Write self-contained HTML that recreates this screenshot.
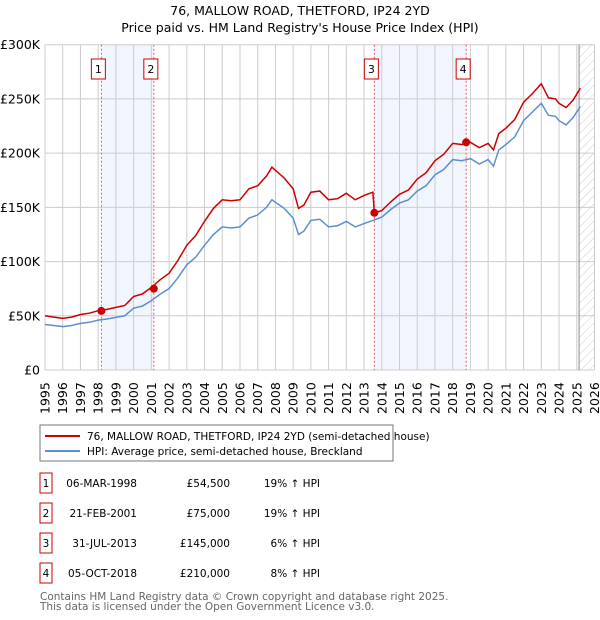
<!DOCTYPE html>
<html><head><meta charset="utf-8">
<style>
body{margin:0;background:#fff;font-family:"Liberation Sans","DejaVu Sans",sans-serif;}
#wrap{position:relative;width:600px;height:620px;overflow:hidden;}
svg text{font-family:"DejaVu Sans","Liberation Sans",sans-serif;}
</style></head>
<body><div id="wrap">
<svg id="chart" width="600" height="620"></svg>
</div>
<script>
const hpiYears=[1995,1995.5,1996,1996.5,1997,1997.5,1998,1998.5,1999,1999.5,2000,2000.5,2001,2001.5,2002,2002.5,2003,2003.5,2004,2004.5,2005,2005.5,2006,2006.5,2007,2007.5,2007.8,2008.5,2009,2009.3,2009.6,2010,2010.5,2011,2011.5,2012,2012.5,2013,2013.5,2014,2014.5,2015,2015.5,2016,2016.5,2017,2017.5,2018,2018.5,2019,2019.5,2020,2020.3,2020.6,2021,2021.5,2022,2022.5,2023,2023.4,2023.8,2024,2024.4,2024.8,2025.2];
const hpiValues=[42,41,40,41,43,44,46,47,48.5,50,57,59,64,70,75,85,97,104,115,125,132,131,132,140,143,150,157,149,140,125,128,138,139,132,133,137,132,135,138,141,148,154,157,165,170,180,185,194,193,195,190,194,188,203,208,215,230,238,246,235,234,230,226,233,243];
const priceYears=[1995,1995.5,1996,1996.5,1997,1997.5,1998,1998.5,1999,1999.5,2000,2000.5,2001,2001.5,2002,2002.5,2003,2003.5,2004,2004.5,2005,2005.5,2006,2006.5,2007,2007.5,2007.8,2008.5,2009,2009.3,2009.6,2010,2010.5,2011,2011.5,2012,2012.5,2013,2013.5,2013.58,2014,2014.5,2015,2015.5,2016,2016.5,2017,2017.5,2018,2018.5,2019,2019.5,2020,2020.3,2020.6,2021,2021.5,2022,2022.5,2023,2023.4,2023.8,2024,2024.4,2024.8,2025.2];
const priceValues=[50,48.8,47.6,48.8,51.2,52.4,54.7,55.9,57.7,59.5,67.8,70.2,76.2,83.3,89.3,101,115,124,137,149,157,156,157,167,170,179,187,177,167,149,152,164,165,157,158,163,157,161,164,145,147,155,162,166,176,182,193,199,209,208,210,205,209,203,218,223,231,247,255,264,251,250,246,242,249,260];
const saleYears=[1998.18,2001.14,2013.58,2018.76];
const saleValues=[54.5,75,145,210];
const saleLabels=["1","2","3","4"];
const yTicks=[0,50,100,150,200,250,300];
const yTickLabels=["£0","£50K","£100K","£150K","£200K","£250K","£300K"];
const xTicks=[];for(let y=1995;y<=2026;y++)xTicks.push(y);

const NS="http://www.w3.org/2000/svg";
const svg=document.getElementById('chart');
const L=45,R=594.5,T=44.7,B=370;
const X=y=>L+(y-1995)/31*(R-L);
const Y=v=>B-v/300*(B-T);
function mk(tag,attrs,parent){const e=document.createElementNS(NS,tag);for(const k in attrs)e.setAttribute(k,attrs[k]);(parent||svg).appendChild(e);return e;}

let t=mk('text',{x:300,y:15,'text-anchor':'middle','font-size':12.5,fill:'#000'});t.textContent="76, MALLOW ROAD, THETFORD, IP24 2YD";


t=mk('text',{x:300,y:32,'text-anchor':'middle','font-size':12.5,fill:'#000'});t.textContent="Price paid vs. HM Land Registry's House Price Index (HPI)";



for(const [a,b] of [[0,1],[2,3]]){
 const r=mk('rect',{x:X(saleYears[a]),y:T,width:X(saleYears[b])-X(saleYears[a]),height:B-T,fill:'#edf2fc',opacity:0.8});
 
 
}
const defs=mk('defs',{});
const pat=mk('pattern',{id:'hatch',width:6,height:6,patternUnits:'userSpaceOnUse',patternTransform:'rotate(45)'},defs);
mk('line',{x1:0,y1:0,x2:0,y2:6,stroke:'#ccc','stroke-width':1},pat);
const hr=mk('rect',{x:X(2025.13),y:T,width:R-X(2025.13),height:B-T,fill:'url(#hatch)'});


for(const v of yTicks){const l=mk('line',{x1:L,x2:R,y1:Y(v),y2:Y(v),stroke:'#ccc','stroke-width':1});
 
 }
for(const y of xTicks){const l=mk('line',{x1:X(y),x2:X(y),y1:T,y2:B,stroke:'#ccc','stroke-width':1});
 
 }
mk('line',{x1:X(2025.13),x2:X(2025.13),y1:T,y2:B,stroke:'#888','stroke-width':1});
yTicks.forEach((v,i)=>{const e=mk('text',{x:40,y:Y(v)+4.5,'text-anchor':'end','font-size':12.5,fill:'#000'});e.textContent=yTickLabels[i];
 
 });
xTicks.forEach(y=>{const e=mk('text',{transform:`translate(${X(y)+4.5},${B+44}) rotate(-90)`,'font-size':12.5,fill:'#000'});e.textContent=y;
 
 });
saleYears.forEach((y,i)=>{
 const l=mk('line',{x1:X(y),x2:X(y),y1:T,y2:B,stroke:'#e06060','stroke-width':1,'stroke-dasharray':'2,2'});
 
 
 const g=mk('g',{});
 
 
 mk('rect',{x:X(y)-10,y:59,width:14,height:20,fill:'#fff',stroke:'#c00','stroke-width':1},g);
 const tx=mk('text',{x:X(y)-3,y:73,'text-anchor':'middle','font-size':11,fill:'#000'},g);tx.textContent=saleLabels[i];
});
function path(xs,vs){return xs.map((x,i)=>(i?'L':'M')+X(x).toFixed(1)+','+Y(vs[i]).toFixed(1)).join('');}
const hp=mk('path',{d:path(hpiYears,hpiValues),fill:'none',stroke:'#5b8fd0','stroke-width':1.5});


const pp=mk('path',{d:path(priceYears,priceValues),fill:'none',stroke:'#cc0000','stroke-width':1.5});


saleYears.forEach((y,i)=>{const c=mk('circle',{cx:X(y),cy:Y(saleValues[i]),r:4,fill:'#cc0000'});
 
 });

const lg=mk('g',{});


mk('rect',{x:40,y:425,width:353,height:36,fill:'#fff',stroke:'#777','stroke-width':1},lg);
mk('line',{x1:45,x2:80,y1:436,y2:436,stroke:'#cc0000','stroke-width':2},lg);
mk('line',{x1:45,x2:80,y1:451,y2:451,stroke:'#5b8fd0','stroke-width':2},lg);
let lt=mk('text',{x:87,y:440,'font-size':10.5,fill:'#000'},lg);lt.textContent="76, MALLOW ROAD, THETFORD, IP24 2YD (semi-detached house)";


lt=mk('text',{x:87,y:455,'font-size':10.5,fill:'#000'},lg);lt.textContent="HPI: Average price, semi-detached house, Breckland";



const dates=["06-MAR-1998","21-FEB-2001","31-JUL-2013","05-OCT-2018"];
const prices=["£54,500","£75,000","£145,000","£210,000"];
const pcts=["19% ↑ HPI","19% ↑ HPI","6% ↑ HPI","8% ↑ HPI"];
dates.forEach((d,i)=>{
 const cy=483+i*30;
 const g=mk('g',{});
 
 
 mk('rect',{x:40,y:cy-10,width:12,height:20,fill:'#fff',stroke:'#c00','stroke-width':1},g);
 let e=mk('text',{x:46,y:cy+4,'text-anchor':'middle','font-size':10.5,fill:'#000'},g);e.textContent=saleLabels[i];
 e=mk('text',{x:137,y:cy+4,'text-anchor':'end','font-size':10.5,fill:'#000'},g);e.textContent=d;
 e=mk('text',{x:230,y:cy+4,'text-anchor':'end','font-size':10.5,fill:'#000'},g);e.textContent=prices[i];
 e=mk('text',{x:320,y:cy+4,'text-anchor':'end','font-size':10.5,fill:'#000'},g);e.textContent=pcts[i];
});
let f=mk('text',{x:40,y:600,'font-size':10.5,fill:'#666'});f.textContent="Contains HM Land Registry data © Crown copyright and database right 2025.";


f=mk('text',{x:40,y:610,'font-size':10.5,fill:'#666'});f.textContent="This data is licensed under the Open Government Licence v3.0.";


</script>
</body></html>
